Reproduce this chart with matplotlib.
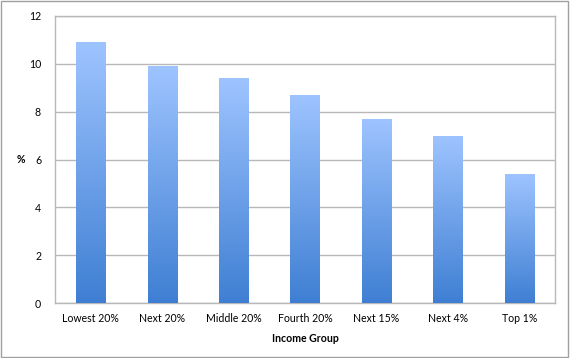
import matplotlib
matplotlib.use("Agg")
import matplotlib.pyplot as plt
import numpy as np
from matplotlib.colors import LinearSegmentedColormap
from matplotlib.patches import Rectangle

categories = ["Lowest 20%", "Next 20%", "Middle 20%", "Fourth 20%", "Next 15%", "Next 4%", "Top 1%"]
values = [10.9, 9.9, 9.4, 8.7, 7.7, 7.0, 5.4]
yticks = [0, 2, 4, 6, 8, 10, 12]

plt.rcParams['font.family'] = ['Lato', 'DejaVu Sans']

fig = plt.figure(figsize=(5.7, 3.58), dpi=100)
ax = fig.add_axes([55/570, 1 - 303/358, 500/570, 287/358])

x = np.arange(len(categories))
bars = ax.bar(x, values, width=0.41, color='none', edgecolor='none', zorder=3)

cmap = LinearSegmentedColormap.from_list("g", ["#3F7FD3", "#9EC4FF"])
grad = np.linspace(0, 1, 256).reshape(-1, 1)
for b in bars:
    x0, y0 = b.get_x(), b.get_y()
    w, h = b.get_width(), b.get_height()
    im = ax.imshow(grad, extent=[x0, x0 + w, y0, y0 + h], origin='lower', cmap=cmap,
                   aspect='auto', zorder=3, interpolation='bilinear')
    im.set_clip_path(b)

ax.set_xlim(-0.5, len(categories) - 0.5)
ax.set_ylim(0, 12)
ax.set_yticks(yticks)
ax.set_xticks(x)
ax.set_xticklabels(categories, fontsize=7.6)
ax.tick_params(axis='both', length=0, labelsize=7.6, colors='black')
ax.tick_params(axis='y', pad=10)
ax.tick_params(axis='x', pad=7)
ax.yaxis.grid(True, color='#b8b8b8', linewidth=1.0, zorder=0)
ax.set_axisbelow(True)
for s in ax.spines.values():
    s.set_color('#b8b8b8')
    s.set_linewidth(1.0)

ax.set_ylabel('%', fontsize=7.6, fontweight='bold', rotation=0, labelpad=6, va='center')
ax.set_xlabel('Income Group', fontsize=7.6, fontweight='bold', labelpad=7)

fig.patches.append(Rectangle((0.002, 0.003), 0.995, 0.994, transform=fig.transFigure,
                             fill=False, edgecolor='#a0a0a0', linewidth=1.0))

fig.savefig("out.png", dpi=100)
